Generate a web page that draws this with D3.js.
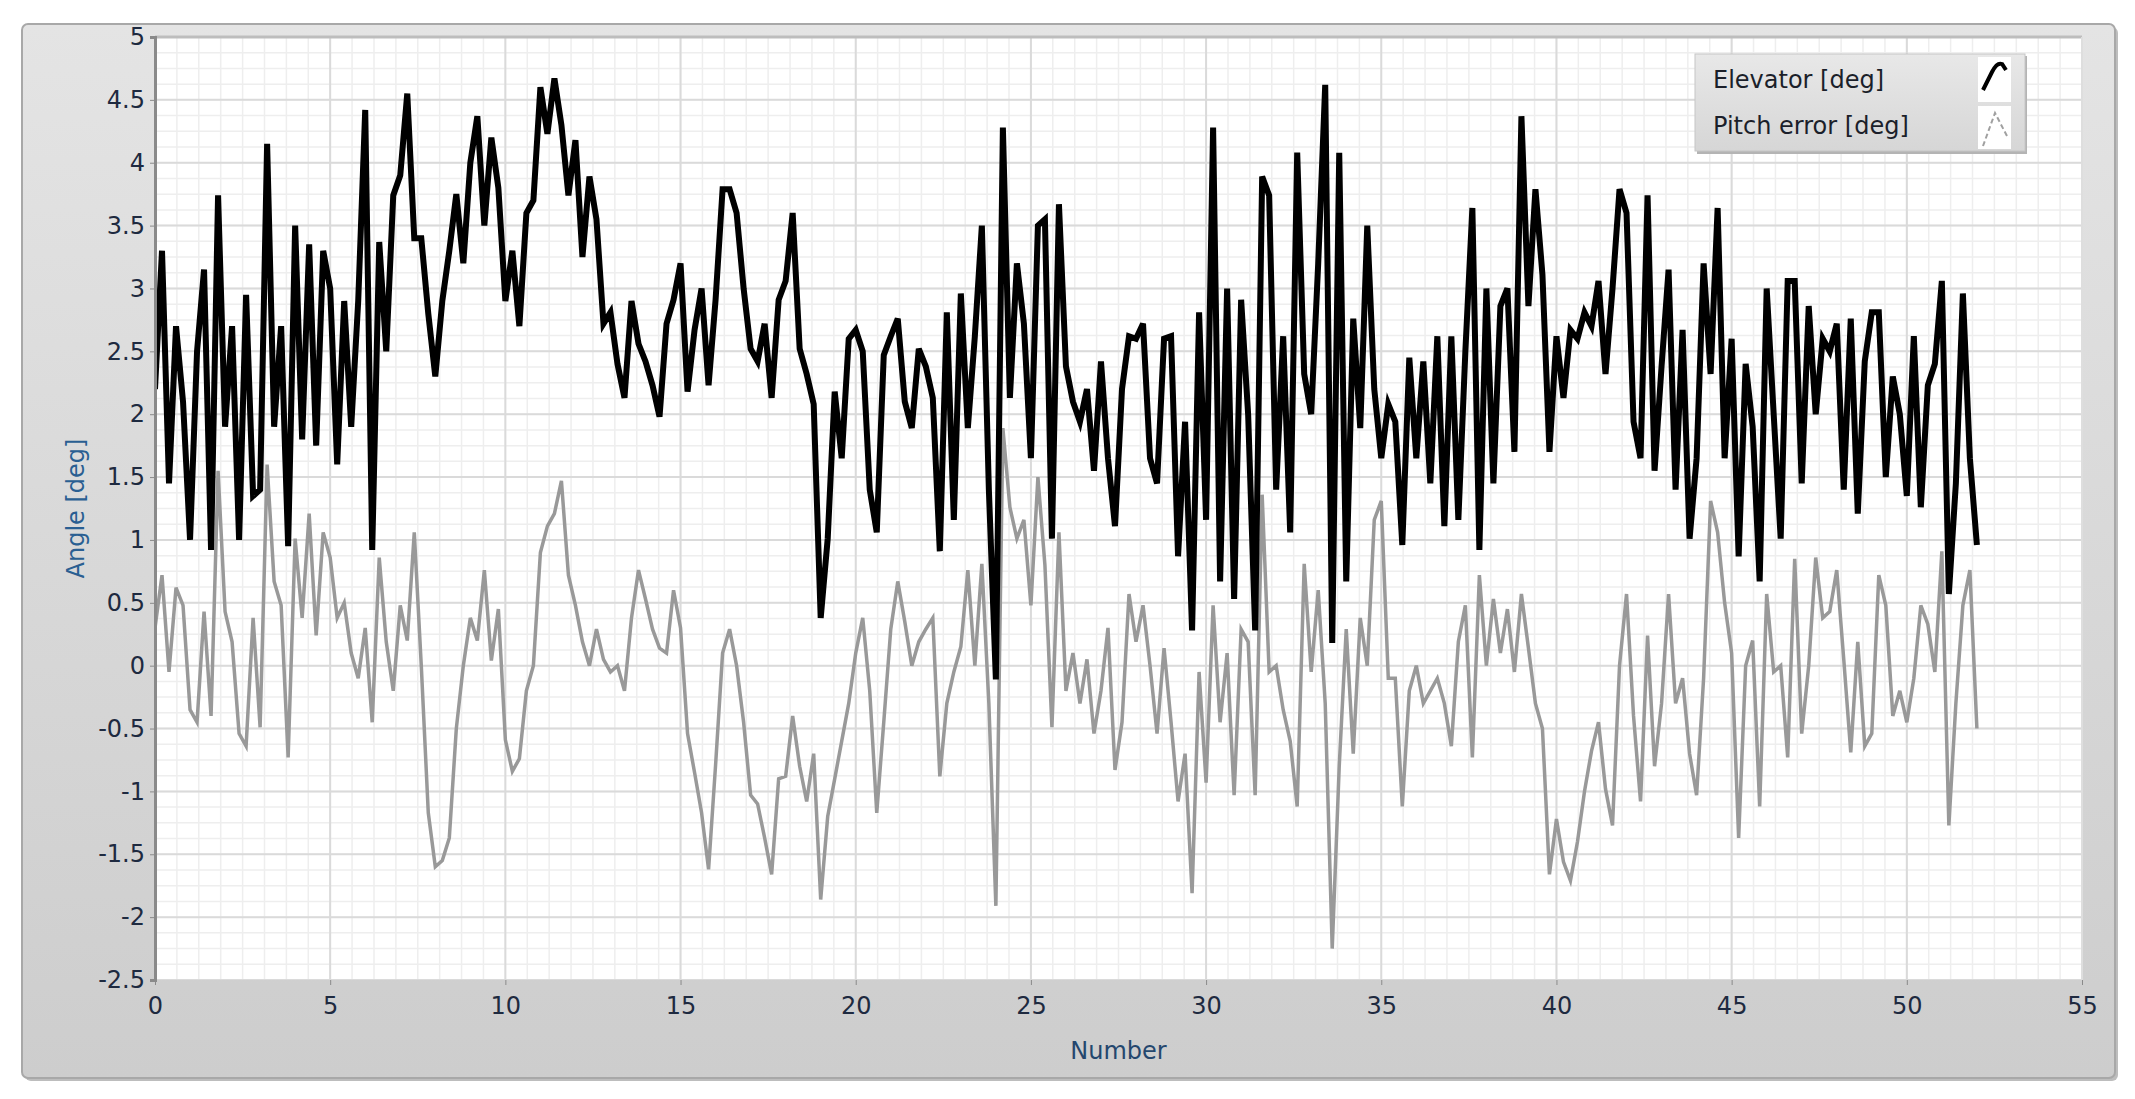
<!DOCTYPE html>
<html>
<head>
<meta charset="utf-8">
<script src="https://cdn.jsdelivr.net/npm/d3@7"></script>
<style>
  body { margin: 0; background: #ffffff; }
  svg { display: block; }
  text { font-family: "DejaVu Sans", sans-serif; }
</style>
</head>
<body>
<div id="chart"></div>
<script>
// sample spacing of both traces (x units)
var xStep = 0.2;

// Elevator [deg], one row per unit of x
var elevator = [
  2.2, 3.3, 1.45, 2.7, 2.1,
  1.0, 2.5, 3.15, 0.92, 3.74,
  1.9, 2.7, 1.0, 2.95, 1.35,
  1.4, 4.15, 1.9, 2.7, 0.95,
  3.5, 1.8, 3.35, 1.75, 3.3,
  3.0, 1.6, 2.9, 1.9, 2.9,
  4.42, 0.92, 3.37, 2.5, 3.74,
  3.9, 4.55, 3.4, 3.4, 2.8,
  2.3, 2.9, 3.3, 3.75, 3.2,
  4.0, 4.37, 3.5, 4.2, 3.8,
  2.9, 3.3, 2.7, 3.6, 3.7,
  4.6, 4.23, 4.67, 4.3, 3.74,
  4.18, 3.25, 3.89, 3.55, 2.72,
  2.81, 2.4, 2.13, 2.9, 2.56,
  2.42, 2.23, 1.98, 2.72, 2.91,
  3.2, 2.18, 2.67, 3.0, 2.23,
  2.91, 3.79, 3.79, 3.6, 3.0,
  2.52, 2.42, 2.72, 2.13, 2.91,
  3.06, 3.6, 2.52, 2.32, 2.08,
  0.38, 1.01, 2.18, 1.65, 2.6,
  2.67, 2.5, 1.4, 1.06, 2.47,
  2.62, 2.76, 2.1, 1.89, 2.52,
  2.38, 2.13, 0.91, 2.81, 1.16,
  2.96, 1.89, 2.62, 3.5, 1.4,
  -0.11, 4.28, 2.13, 3.2, 2.72,
  1.65, 3.5, 3.55, 1.01, 3.67,
  2.38, 2.1, 1.94, 2.2, 1.55,
  2.42, 1.65, 1.11, 2.2, 2.62,
  2.6, 2.72, 1.65, 1.45, 2.6,
  2.62, 0.87, 1.94, 0.28, 2.81,
  1.16, 4.28, 0.67, 3.0, 0.53,
  2.91, 2.0, 0.28, 3.89, 3.74,
  1.4, 2.62, 1.06, 4.08, 2.32,
  2.0, 3.2, 4.62, 0.18, 4.08,
  0.67, 2.76, 1.89, 3.5, 2.2,
  1.65, 2.08, 1.94, 0.96, 2.45,
  1.65, 2.42, 1.45, 2.62, 1.11,
  2.62, 1.16, 2.5, 3.64, 0.92,
  3.0, 1.45, 2.86, 3.0, 1.7,
  4.37, 2.86, 3.79, 3.11, 1.7,
  2.62, 2.13, 2.67, 2.6, 2.81,
  2.7, 3.06, 2.32, 3.0, 3.79,
  3.6, 1.94, 1.65, 3.74, 1.55,
  2.38, 3.15, 1.4, 2.67, 1.01,
  1.65, 3.2, 2.32, 3.64, 1.65,
  2.6, 0.87, 2.4, 1.9, 0.67,
  3.0, 2.0, 1.01, 3.06, 3.06,
  1.45, 2.86, 2.0, 2.6, 2.5,
  2.72, 1.4, 2.76, 1.21, 2.42,
  2.81, 2.81, 1.5, 2.3, 2.0,
  1.35, 2.62, 1.26, 2.23, 2.4,
  3.06, 0.57, 1.45, 2.96, 1.65,
  0.96
];

// Pitch error [deg]
var pitchError = [
  0.3, 0.72, -0.05, 0.62, 0.48,
  -0.35, -0.45, 0.43, -0.4, 1.55,
  0.43, 0.19, -0.54, -0.64, 0.38,
  -0.49, 1.6, 0.67, 0.48, -0.73,
  1.01, 0.38, 1.21, 0.24, 1.06,
  0.86, 0.38, 0.5, 0.1, -0.1,
  0.3, -0.45, 0.86, 0.19, -0.2,
  0.48, 0.2, 1.06, 0.0, -1.17,
  -1.6, -1.55, -1.37, -0.5, 0.0,
  0.38, 0.2, 0.76, 0.04, 0.45,
  -0.59, -0.84, -0.74, -0.2, 0.0,
  0.9, 1.11, 1.21, 1.47, 0.72,
  0.48, 0.19, 0.0, 0.29, 0.05,
  -0.05, 0.0, -0.2, 0.38, 0.76,
  0.53, 0.29, 0.14, 0.1, 0.6,
  0.3, -0.54, -0.85, -1.17, -1.62,
  -0.79, 0.1, 0.29, 0.0, -0.45,
  -1.03, -1.1, -1.37, -1.66, -0.9,
  -0.88, -0.4, -0.8, -1.08, -0.7,
  -1.86, -1.2, -0.9, -0.6, -0.3,
  0.1, 0.38, -0.2, -1.17, -0.45,
  0.29, 0.67, 0.35, 0.0, 0.19,
  0.29, 0.38, -0.88, -0.3, -0.05,
  0.15, 0.76, 0.0, 0.81, -0.3,
  -1.91, 1.89, 1.26, 1.01, 1.16,
  0.48, 1.5, 0.8, -0.49, 1.06,
  -0.2, 0.1, -0.3, 0.05, -0.54,
  -0.2, 0.3, -0.83, -0.45, 0.57,
  0.19, 0.48, 0.0, -0.54, 0.14,
  -0.45, -1.08, -0.7, -1.81, -0.05,
  -0.93, 0.48, -0.45, 0.1, -1.03,
  0.29, 0.19, -1.03, 1.36, -0.05,
  0.0, -0.35, -0.6, -1.12, 0.81,
  -0.05, 0.6, -0.3, -2.25, -0.8,
  0.29, -0.7, 0.38, 0.0, 1.16,
  1.31, -0.1, -0.1, -1.12, -0.2,
  0.0, -0.3, -0.2, -0.1, -0.3,
  -0.64, 0.19, 0.48, -0.73, 0.72,
  0.0, 0.53, 0.1, 0.45, -0.05,
  0.57, 0.14, -0.3, -0.5, -1.66,
  -1.22, -1.56, -1.71, -1.4, -1.0,
  -0.68, -0.45, -0.98, -1.27, 0.0,
  0.57, -0.4, -1.08, 0.24, -0.8,
  -0.3, 0.57, -0.3, -0.1, -0.7,
  -1.03, -0.1, 1.31, 1.06, 0.5,
  0.1, -1.37, 0.0, 0.2, -1.12,
  0.57, -0.05, 0.0, -0.73, 0.85,
  -0.54, 0.0, 0.86, 0.38, 0.43,
  0.76, 0.05, -0.69, 0.19, -0.64,
  -0.54, 0.72, 0.48, -0.4, -0.2,
  -0.45, -0.1, 0.48, 0.33, -0.05,
  0.91, -1.27, -0.3, 0.48, 0.76,
  -0.5
];

var xTicks = [0, 5, 10, 15, 20, 25, 30, 35, 40, 45, 50, 55];
var yTicks = [-2.5, -2, -1.5, -1, -0.5, 0, 0.5, 1, 1.5, 2, 2.5, 3, 3.5, 4, 4.5, 5];
var seriesNames = ["Elevator [deg]", "Pitch error [deg]"];

var width = 2135, height = 1099;
var plot = { left: 155, right: 2082, top: 37, bottom: 980 };

var svg = d3.select("#chart").append("svg")
  .attr("width", width)
  .attr("height", height);

var defs = svg.append("defs");
var panelGrad = defs.append("linearGradient").attr("id", "panelGrad")
  .attr("x1", 0).attr("y1", 0).attr("x2", 0).attr("y2", 1);
panelGrad.append("stop").attr("offset", "0%").attr("stop-color", "#e4e4e4");
panelGrad.append("stop").attr("offset", "100%").attr("stop-color", "#cdcdcd");
var legendGrad = defs.append("linearGradient").attr("id", "legendGrad")
  .attr("x1", 0).attr("y1", 0).attr("x2", 0).attr("y2", 1);
legendGrad.append("stop").attr("offset", "0%").attr("stop-color", "#e8e8e8");
legendGrad.append("stop").attr("offset", "100%").attr("stop-color", "#d6d6d6");
defs.append("clipPath").attr("id", "plotClip").append("rect")
  .attr("x", plot.left).attr("y", plot.top)
  .attr("width", plot.right - plot.left).attr("height", plot.bottom - plot.top);

// outer panel with a soft shadow
svg.append("rect")
  .attr("x", 25).attr("y", 27).attr("width", 2093).attr("height", 1054)
  .attr("rx", 6).attr("fill", "#bdbdbd");
svg.append("rect")
  .attr("x", 22).attr("y", 24).attr("width", 2093).attr("height", 1054)
  .attr("rx", 6).attr("fill", "url(#panelGrad)")
  .attr("stroke", "#a8a8a8").attr("stroke-width", 2);

// scales
var x = d3.scaleLinear().domain([0, 55]).range([plot.left, plot.right]);
var y = d3.scaleLinear().domain([-2.5, 5]).range([plot.bottom, plot.top]);

svg.append("rect")
  .attr("x", plot.left).attr("y", plot.top)
  .attr("width", plot.right - plot.left).attr("height", plot.bottom - plot.top)
  .attr("fill", "#ffffff");

// minor grid
var grid = svg.append("g").attr("clip-path", "url(#plotClip)");
grid.selectAll(".vminor")
  .data(d3.range(0, 55.001, 0.625))
  .join("line")
  .attr("x1", function(d) { return x(d); })
  .attr("x2", function(d) { return x(d); })
  .attr("y1", plot.top).attr("y2", plot.bottom)
  .attr("stroke", "#eeeeee").attr("stroke-width", 1.5);
grid.selectAll(".hminor")
  .data(d3.range(-2.5, 5.001, 0.125))
  .join("line")
  .attr("x1", plot.left).attr("x2", plot.right)
  .attr("y1", function(d) { return y(d); })
  .attr("y2", function(d) { return y(d); })
  .attr("stroke", "#eeeeee").attr("stroke-width", 1.5);

// major grid
grid.selectAll(".vmajor")
  .data(xTicks)
  .join("line")
  .attr("x1", function(d) { return x(d); })
  .attr("x2", function(d) { return x(d); })
  .attr("y1", plot.top).attr("y2", plot.bottom)
  .attr("stroke", "#dadada").attr("stroke-width", 2);
grid.selectAll(".hmajor")
  .data(yTicks)
  .join("line")
  .attr("x1", plot.left).attr("x2", plot.right)
  .attr("y1", function(d) { return y(d); })
  .attr("y2", function(d) { return y(d); })
  .attr("stroke", "#dadada").attr("stroke-width", 2);

// plot frame
svg.append("line")
  .attr("x1", plot.left).attr("x2", plot.right)
  .attr("y1", plot.top).attr("y2", plot.top)
  .attr("stroke", "#bdbdbd").attr("stroke-width", 3);
svg.append("line")
  .attr("x1", plot.right).attr("x2", plot.right)
  .attr("y1", plot.top).attr("y2", plot.bottom)
  .attr("stroke", "#dedede").attr("stroke-width", 2);

// traces
var line = d3.line()
  .x(function(d, i) { return x(i * xStep); })
  .y(function(d) { return y(d); });

var traces = svg.append("g").attr("clip-path", "url(#plotClip)");
traces.append("path")
  .datum(pitchError)
  .attr("d", line)
  .attr("fill", "none")
  .attr("stroke", "#999999")
  .attr("stroke-width", 3.5);
traces.append("path")
  .datum(elevator)
  .attr("d", line)
  .attr("fill", "none")
  .attr("stroke", "#000000")
  .attr("stroke-width", 6);

// axes
var yAxis = svg.append("g")
  .attr("transform", "translate(" + plot.left + ",0)")
  .call(d3.axisLeft(y).tickValues(yTicks).tickSize(5).tickPadding(5)
    .tickFormat(function(d) { return String(d); }));
yAxis.select(".domain").attr("stroke", "#8a8a8a").attr("stroke-width", 3);
yAxis.selectAll(".tick line").attr("stroke", "#8a8a8a");
yAxis.selectAll(".tick text")
  .attr("fill", "#1e2a40")
  .style("font-size", "24px")
  .style("font-family", "'DejaVu Sans', sans-serif");

var xAxis = svg.append("g")
  .attr("transform", "translate(0," + plot.bottom + ")")
  .call(d3.axisBottom(x).tickValues(xTicks).tickSize(5).tickPadding(12));
xAxis.select(".domain").remove();
xAxis.selectAll(".tick line").attr("stroke", "#8a8a8a");
xAxis.selectAll(".tick text")
  .attr("fill", "#1e2a40")
  .style("font-size", "24px")
  .style("font-family", "'DejaVu Sans', sans-serif");

// axis titles
svg.append("text")
  .attr("x", (plot.left + plot.right) / 2)
  .attr("y", 1059)
  .attr("text-anchor", "middle")
  .attr("fill", "#24476e")
  .style("font-size", "24px")
  .text("Number");

svg.append("text")
  .attr("transform", "translate(84," + ((plot.top + plot.bottom) / 2) + ") rotate(-90)")
  .attr("text-anchor", "middle")
  .attr("fill", "#2a5f92")
  .style("font-size", "24px")
  .text("Angle [deg]");

// legend
var legend = svg.append("g");
legend.append("rect")
  .attr("x", 1697).attr("y", 56).attr("width", 330).attr("height", 98)
  .attr("fill", "#b4b4b4");
legend.append("rect")
  .attr("x", 1695).attr("y", 54).attr("width", 330).attr("height", 97)
  .attr("fill", "url(#legendGrad)")
  .attr("stroke", "#c6c6c6").attr("stroke-width", 1);

var rowY = [80, 126];
legend.selectAll(".legtext")
  .data(seriesNames)
  .join("text")
  .attr("x", 1713)
  .attr("y", function(d, i) { return rowY[i]; })
  .attr("dy", "0.35em")
  .attr("fill", "#1b1f2a")
  .style("font-size", "24px")
  .text(function(d) { return d; });

legend.append("rect")
  .attr("x", 1978).attr("y", 57).attr("width", 33).attr("height", 45)
  .attr("fill", "#ffffff");
legend.append("rect")
  .attr("x", 1978).attr("y", 106).attr("width", 33).attr("height", 43)
  .attr("fill", "#ffffff");
legend.append("path")
  .attr("d", "M1983,90 L1992,72 Q1997,62 2002,64 L2006,70")
  .attr("fill", "none").attr("stroke", "#000000").attr("stroke-width", 4);
legend.append("path")
  .attr("d", "M1983,146 L1995,113 L2007,136")
  .attr("fill", "none").attr("stroke", "#a0a0a0").attr("stroke-width", 2)
  .attr("stroke-dasharray", "5,3");
</script>
</body>
</html>
